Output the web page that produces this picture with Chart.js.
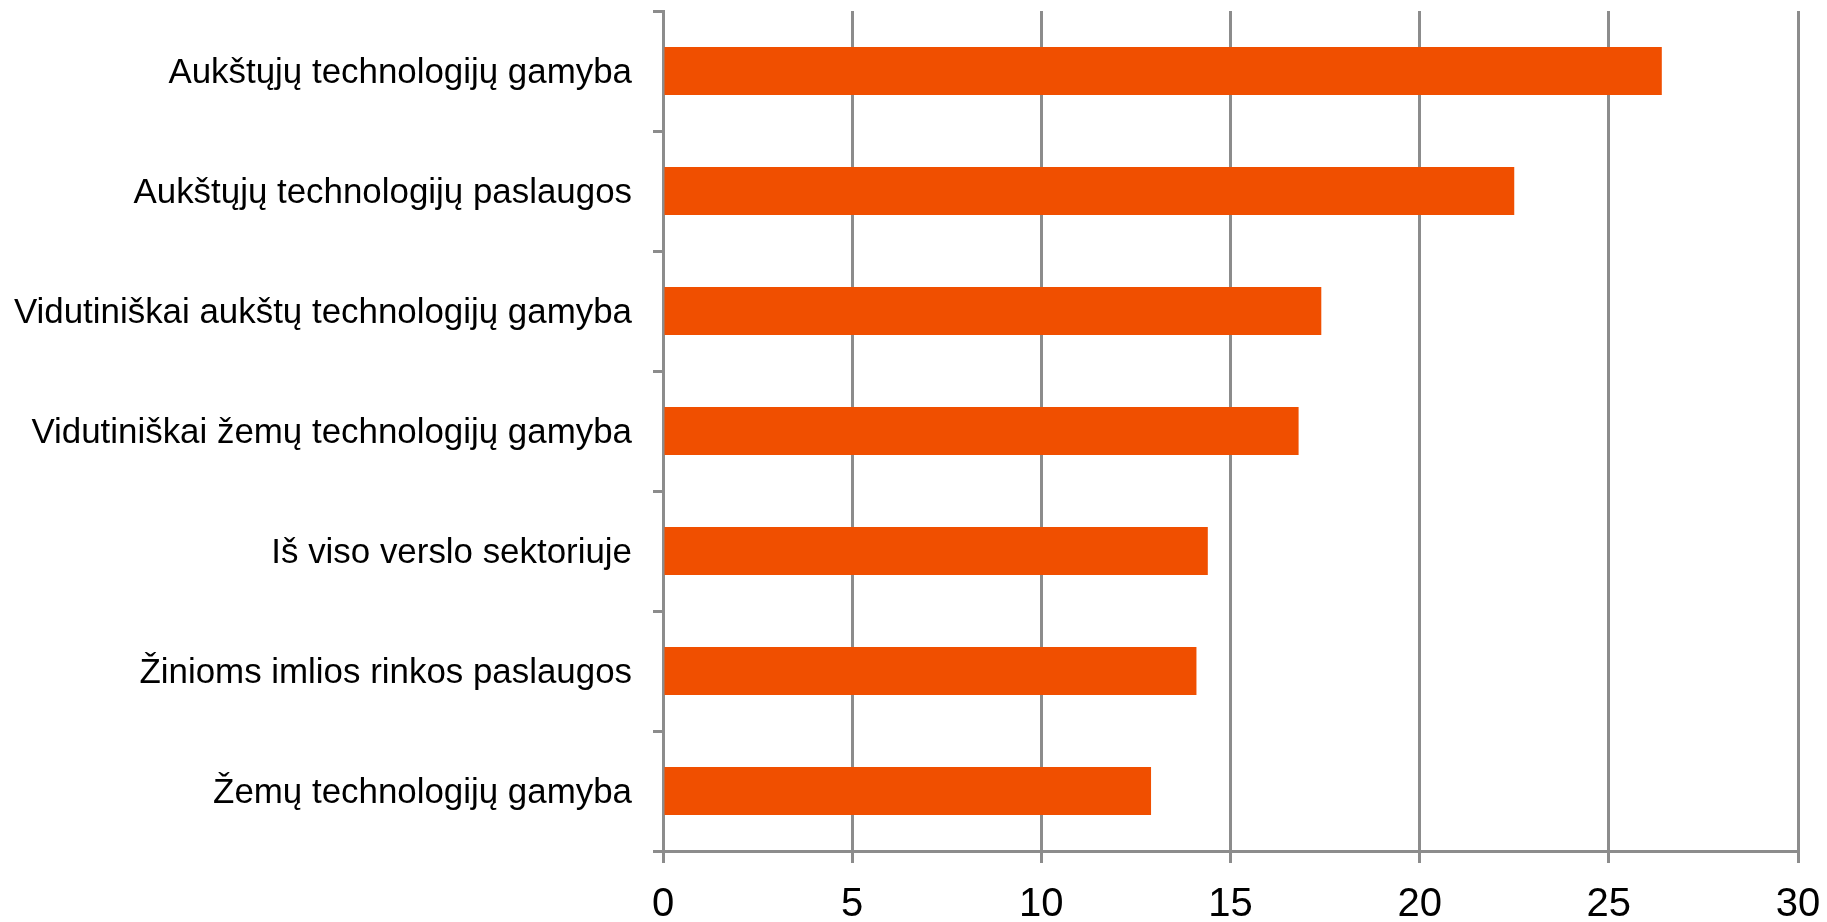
<!DOCTYPE html>
<html>
<head>
<meta charset="utf-8">
<script src="https://cdn.jsdelivr.net/npm/chart.js@4"></script>
<style>
  html, body { margin: 0; padding: 0; background: #fff; }
  #wrap { width: 1827px; height: 922px; position: relative; }
</style>
</head>
<body>
<div id="wrap"><canvas id="bar-chart"></canvas></div>
<script>
// Horizontal bar chart

const categories = [
  "Aukštųjų technologijų gamyba",
  "Aukštųjų technologijų paslaugos",
  "Vidutiniškai aukštų technologijų gamyba",
  "Vidutiniškai žemų technologijų gamyba",
  "Iš viso verslo sektoriuje",
  "Žinioms imlios rinkos paslaugos",
  "Žemų technologijų gamyba",
];
const values = [26.4, 22.5, 17.4, 16.8, 14.4, 14.1, 12.9];
const xTicks = [0, 5, 10, 15, 20, 25, 30];

const GRID = "#8c8c8c";
const ctx = document.getElementById("bar-chart");

new Chart(ctx, {
  type: "bar",
  data: {
    labels: categories,
    datasets: [{
      label: "Reikšmė",
      data: values,
      backgroundColor: "#f04f00",
      borderWidth: 0,
      barPercentage: 0.4,
      categoryPercentage: 1,
    }, ],
  },
  options: {
    indexAxis: "y",
    responsive: true,
    maintainAspectRatio: false,
    animation: false,
    layout: {
      padding: { top: 11, right: 29, bottom: 0, left: 0 },
    },
    plugins: {
      legend: { display: false },
      tooltip: { enabled: false },
    },
    scales: {
      x: {
        min: xTicks[0],
        max: xTicks[xTicks.length - 1],
        afterBuildTicks: (scale) => {
          scale.ticks = xTicks.map((v) => ({ value: v }));
        },
        afterFit: (scale) => {
          scale.height = 71;
          scale.paddingLeft = 0;
          scale.paddingRight = 0;
        },
        border: { display: true, color: GRID, width: 3 },
        grid: {
          color: GRID,
          lineWidth: 3,
          drawTicks: true,
          tickLength: 12,
        },
        ticks: {
          color: "#000",
          padding: 18,
          maxRotation: 0,
          font: { family: "Liberation Sans", size: 40 },
        },
      },
      y: {
        afterFit: (scale) => {
          scale.width = 663;
          scale.paddingTop = 0;
          scale.paddingBottom = 0;
        },
        border: { display: true, color: GRID, width: 3 },
        grid: {
          color: GRID,
          lineWidth: 3,
          offset: true,
          drawOnChartArea: false,
          drawTicks: true,
          tickLength: 10,
        },
        ticks: {
          color: "#000",
          padding: 21,
          labelOffset: 2,
          autoSkip: false,
          font: { family: "Liberation Sans", size: 34.9 },
        },
      },
    },
  },
});
</script>
</body>
</html>
